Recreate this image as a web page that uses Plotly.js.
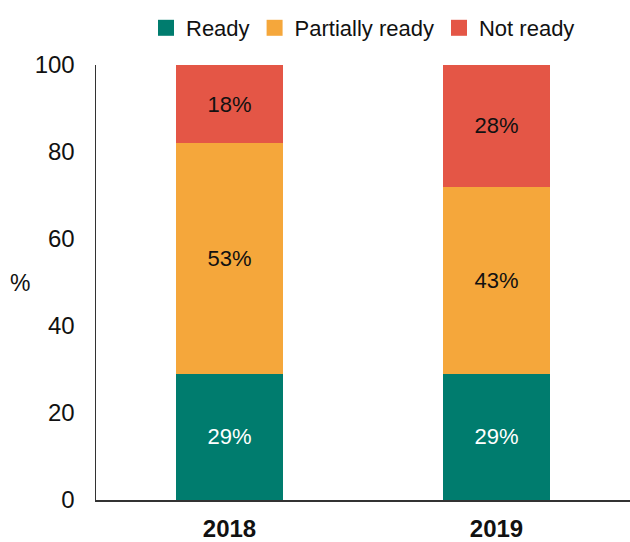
<!DOCTYPE html>
<html>
<head>
<meta charset="utf-8">
<script src="https://cdn.plot.ly/plotly-3.0.1.min.js"></script>
<style>html,body{margin:0;padding:0;background:#fff;}#chart{width:630px;height:542px;}</style>
</head>
<body>
<div id="chart"></div>
<script>
const years = ['2018', '2019'];
const seriesNames = ['Ready', 'Partially ready', 'Not ready'];
const ready = [29, 29];
const partiallyReady = [53, 43];
const notReady = [18, 28];
const yTicks = [0, 20, 40, 60, 80, 100];

const FONT = '"Liberation Sans Narrow", "Arial Narrow", "Liberation Sans", Arial, sans-serif';
const colors = ['#007C6E', '#F5A73B', '#E45646'];
const textColors = ['#ffffff', '#111111', '#111111'];
const values = [ready, partiallyReady, notReady];

const traces = [];
values.forEach((vals, i) => {
  traces.push({
    type: 'bar',
    x: years,
    y: vals,
    name: seriesNames[i],
    showlegend: false,
    marker: {color: colors[i]},
    width: 0.4,
    texttemplate: '%{y}%',
    textposition: 'inside',
    insidetextanchor: 'middle',
    textangle: 0,
    textfont: {family: FONT, size: 22, color: textColors[i]},
    hoverinfo: 'skip'
  });
});
// legend entries with larger square swatches
values.forEach((vals, i) => {
  traces.push({
    type: 'scatter',
    mode: 'markers',
    x: [null],
    y: [null],
    name: seriesNames[i],
    marker: {symbol: 'square', size: 20, color: colors[i]},
    showlegend: true,
    hoverinfo: 'skip'
  });
});

const layout = {
  width: 630,
  height: 542,
  margin: {l: 96, r: 0, t: 65, b: 42},
  paper_bgcolor: '#ffffff',
  plot_bgcolor: '#ffffff',
  barmode: 'stack',
  font: {family: FONT, size: 22, color: '#111111'},
  showlegend: true,
  legend: {
    orientation: 'h',
    x: 0.5,
    xanchor: 'center',
    yref: 'container',
    y: 1 - 28 / 542,
    yanchor: 'middle',
    font: {family: FONT, size: 22, color: '#111111'},
    traceorder: 'normal'
  },
  xaxis: {
    type: 'category',
    categoryorder: 'array',
    categoryarray: years,
    range: [-0.5, 1.5],
    showline: true,
    linecolor: '#333333',
    linewidth: 1.5,
    showgrid: false,
    zeroline: false,
    ticks: '',
    tickfont: {family: FONT, size: 24, color: '#111111', weight: 'bold'},
    ticklabelstandoff: 7
  },
  yaxis: {
    range: [0, 100],
    tickvals: yTicks,
    ticktext: yTicks.map(String),
    showline: true,
    linecolor: '#333333',
    linewidth: 1.5,
    showgrid: false,
    zeroline: false,
    ticks: '',
    tickfont: {family: FONT, size: 24, color: '#111111'},
    ticklabelstandoff: 15
  },
  annotations: [{
    text: '%',
    xref: 'paper',
    yref: 'paper',
    x: (20 - 96) / 534,
    y: 0.5,
    xanchor: 'center',
    yanchor: 'middle',
    showarrow: false,
    font: {family: FONT, size: 23, color: '#111111'}
  }]
};

Plotly.newPlot('chart', traces, layout, {displayModeBar: false, staticPlot: true});
</script>
</body>
</html>
